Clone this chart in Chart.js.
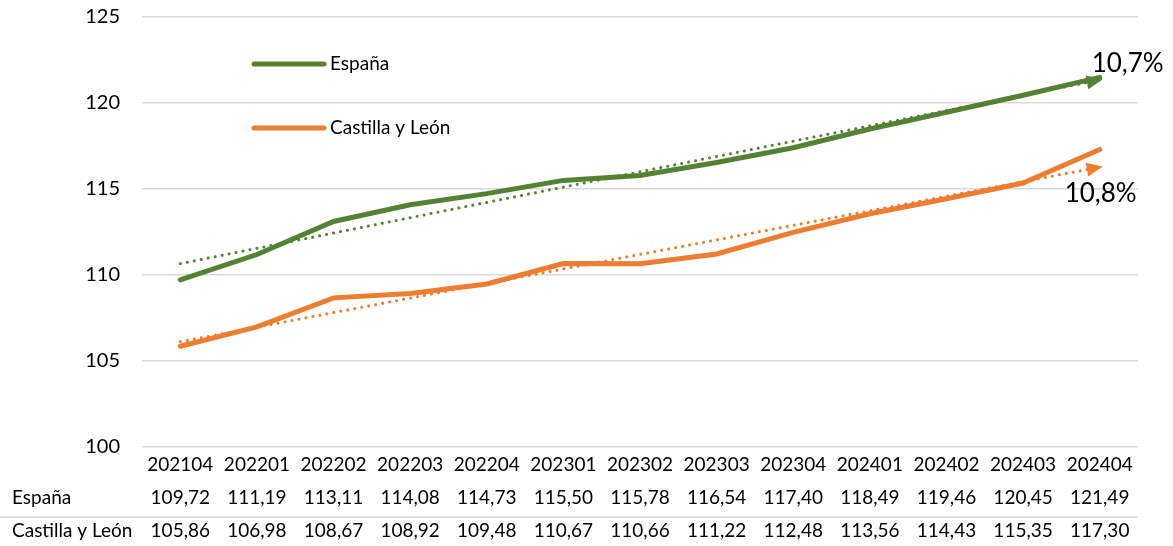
<!DOCTYPE html>
<html>
<head>
<meta charset="utf-8">
<script src="https://cdn.jsdelivr.net/npm/chart.js@4.4.1/dist/chart.umd.min.js"></script>
<style>
    html, body { margin: 0; padding: 0; background: #fff; }
    #wrap { width: 1173px; height: 546px; position: relative; }
</style>
</head>
<body>
<div id="wrap"><canvas id="chart"></canvas></div>
<script>
const periods = ['202104', '202201', '202202', '202203', '202204', '202301', '202302',
    '202303', '202304', '202401', '202402', '202403', '202404'];
const espana = [109.72, 111.19, 113.11, 114.08, 114.73, 115.50, 115.78,
    116.54, 117.40, 118.49, 119.46, 120.45, 121.49];
const castilla = [105.86, 106.98, 108.67, 108.92, 109.48, 110.67, 110.66,
    111.22, 112.48, 113.56, 114.43, 115.35, 117.30];
// trend line ends
const espanaTrend = [110.66, 121.34];
const castillaTrend = [106.12, 116.27];
const trendLabels = ['10,7%', '10,8%'];
const yTicks = [100, 105, 110, 115, 120, 125];

const GREEN = '#548235';
const ORANGE = '#ED7D31';
const FONT = 'Lato, "Open Sans", sans-serif';

const fmt = v => v.toFixed(2).replace('.', ',');

const trendPoints = ends => [
    { x: periods[0], y: ends[0] },
    { x: periods[periods.length - 1], y: ends[1] }
];

// arrow heads, legend, growth labels and the data table under the axis
const extras = {
    id: 'extras',
    afterDatasetsDraw(chart) {
        const ctx = chart.ctx;
        const area = chart.chartArea;
        const xs = chart.scales.x;

        // arrow heads on the trend lines
        [2, 3].forEach(i => {
            const pts = chart.getDatasetMeta(i).data;
            const a = pts[0], b = pts[pts.length - 1];
            const ang = Math.atan2(b.y - a.y, b.x - a.x);
            const color = chart.data.datasets[i].borderColor;
            ctx.save();
            ctx.translate(b.x + 3, b.y + 3 * Math.tan(ang));
            ctx.rotate(ang);
            ctx.fillStyle = color;
            ctx.beginPath();
            ctx.moveTo(0, 0);
            ctx.lineTo(-16, -7);
            ctx.lineTo(-16, 7);
            ctx.closePath();
            ctx.fill();
            ctx.restore();
        });

        // growth labels
        ctx.save();
        ctx.font = '26px ' + FONT;
        ctx.fillStyle = '#000';
        ctx.textAlign = 'left';
        ctx.textBaseline = 'middle';
        const g = chart.getDatasetMeta(2).data[1];
        const o = chart.getDatasetMeta(3).data[1];
        ctx.fillText(trendLabels[0], g.x - 8, g.y - 16);
        ctx.fillText(trendLabels[1], o.x - 35, o.y + 26);
        ctx.restore();

        // legend inside the plot
        ctx.save();
        ctx.font = '19px ' + FONT;
        ctx.textBaseline = 'middle';
        ctx.fillStyle = '#000';
        ctx.lineCap = 'round';
        ctx.lineWidth = 5;
        [[0, 64], [1, 128]].forEach(([i, y]) => {
            const ds = chart.data.datasets[i];
            ctx.strokeStyle = ds.borderColor;
            ctx.beginPath();
            ctx.moveTo(254, y);
            ctx.lineTo(324, y);
            ctx.stroke();
            ctx.fillText(ds.label, 330, y);
        });
        ctx.restore();

        // data table
        ctx.save();
        ctx.font = '19px ' + FONT;
        ctx.fillStyle = '#000';
        ctx.textBaseline = 'middle';
        ctx.textAlign = 'center';
        periods.forEach((p, i) => {
            const x = xs.getPixelForValue(i);
            ctx.fillText(p, x, 465);
            ctx.fillText(fmt(espana[i]), x, 498);
            ctx.fillText(fmt(castilla[i]), x, 531);
        });
        ctx.textAlign = 'left';
        ctx.fillText(chart.data.datasets[0].label, 12, 498);
        ctx.fillText(chart.data.datasets[1].label, 12, 531);
        ctx.strokeStyle = '#d9d9d9';
        ctx.lineWidth = 1.5;
        ctx.beginPath();
        ctx.moveTo(0, 517);
        ctx.lineTo(area.right, 517);
        ctx.stroke();
        ctx.restore();
    }
};

new Chart(document.getElementById('chart'), {
    type: 'line',
    data: {
        labels: periods,
        datasets: [{
            label: 'España',
            data: espana,
            borderColor: GREEN,
            borderWidth: 5,
            borderCapStyle: 'round',
            pointRadius: 0,
            tension: 0
        }, {
            label: 'Castilla y León',
            data: castilla,
            borderColor: ORANGE,
            borderWidth: 5,
            borderCapStyle: 'round',
            pointRadius: 0,
            tension: 0
        }, {
            label: 'Tendencia España',
            data: trendPoints(espanaTrend),
            borderColor: GREEN,
            borderWidth: 3,
            borderDash: [0.1, 7],
            borderCapStyle: 'round',
            pointRadius: 0
        }, {
            label: 'Tendencia Castilla y León',
            data: trendPoints(castillaTrend),
            borderColor: ORANGE,
            borderWidth: 3,
            borderDash: [0.1, 7],
            borderCapStyle: 'round',
            pointRadius: 0
        }]
    },
    options: {
        responsive: true,
        maintainAspectRatio: false,
        animation: false,
        layout: {
            padding: { top: 17, right: 35, bottom: 99, left: 0 }
        },
        plugins: {
            legend: { display: false },
            tooltip: { enabled: false }
        },
        scales: {
            x: {
                display: false,
                offset: true
            },
            y: {
                min: 100,
                max: 125,
                afterFit: s => {
                    s.width = 142;
                    s.paddingTop = 0;
                    s.paddingBottom = 0;
                },
                afterBuildTicks: s => { s.ticks = yTicks.map(v => ({ value: v })); },
                grid: {
                    color: '#d9d9d9',
                    lineWidth: 1.5,
                    drawTicks: false
                },
                border: { display: false },
                ticks: {
                    padding: 22,
                    color: '#000',
                    font: { family: FONT, size: 20 }
                }
            }
        }
    },
    plugins: [extras]
});
</script>
</body>
</html>
